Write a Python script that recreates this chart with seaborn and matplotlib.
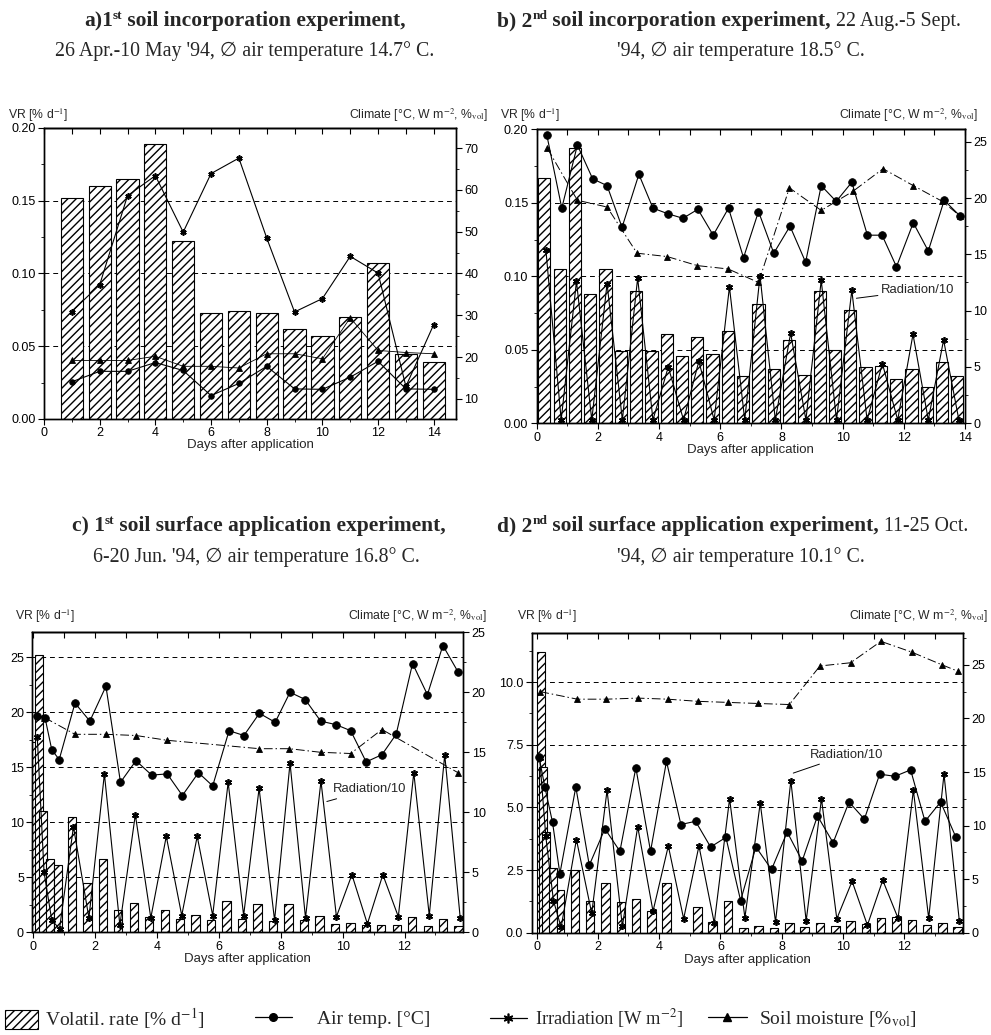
import matplotlib
matplotlib.use("Agg")
import matplotlib.pyplot as plt
import seaborn as sns
import numpy as np
import pandas as pd
from matplotlib.transforms import IdentityTransform
from matplotlib.patches import Patch
from matplotlib.lines import Line2D
from matplotlib.ticker import MultipleLocator, FormatStrFormatter

# ---------------- Panel a: 1st soil incorporation experiment ----------------
a_day = [1, 2, 3, 4, 5, 6, 7, 8, 9, 10, 11, 12, 13, 14]
a_vr = [0.152, 0.160, 0.165, 0.189, 0.122, 0.073, 0.074, 0.073, 0.062, 0.057, 0.070, 0.107, 0.045, 0.039]
a_temp = [14.1, 16.6, 16.6, 18.7, 16.8, 10.8, 13.7, 17.8, 12.4, 12.3, 15.2, 19.0, 12.4, 12.3]
a_irr = [30.9, 37.3, 58.6, 63.4, 49.9, 63.9, 67.6, 48.5, 30.8, 34.0, 44.1, 40.1, 13.0, 27.8]
a_soil = [19.2, 19.2, 19.2, 20.2, 17.8, 17.8, 17.4, 20.8, 20.8, 19.6, 29.4, 21.6, 21.1, 20.8]

# ---------------- Panel b: 2nd soil incorporation experiment ----------------
b_bar_day = [0.25, 0.75, 1.25, 1.75, 2.25, 2.75, 3.25, 3.75, 4.25, 4.75, 5.25, 5.75, 6.25, 6.75,
             7.25, 7.75, 8.25, 8.75, 9.25, 9.75, 10.25, 10.75, 11.25, 11.75, 12.25, 12.75, 13.25, 13.75]
b_vr = [0.167, 0.105, 0.187, 0.088, 0.105, 0.049, 0.090, 0.049, 0.061, 0.046, 0.059, 0.047, 0.063, 0.032,
        0.081, 0.037, 0.057, 0.033, 0.090, 0.050, 0.077, 0.038, 0.039, 0.030, 0.037, 0.025, 0.042, 0.032]
b_temp_day = [0.33, 0.82, 1.33, 1.83, 2.30, 2.79, 3.34, 3.80, 4.29, 4.78, 5.27, 5.77, 6.27, 6.76,
              7.25, 7.75, 8.28, 8.79, 9.30, 9.79, 10.30, 10.81, 11.29, 11.76, 12.31, 12.80, 13.32, 13.84]
b_temp = [25.6, 19.1, 24.7, 21.7, 21.1, 17.4, 22.1, 19.1, 18.6, 18.2, 19.0, 16.7, 19.1, 14.7,
          18.8, 15.1, 17.5, 14.3, 21.1, 19.7, 21.4, 16.7, 16.7, 13.9, 17.8, 15.3, 19.8, 18.4]
b_rad_day = [0.3, 0.8, 1.3, 1.8, 2.3, 2.8, 3.3, 3.8, 4.3, 4.8, 5.3, 5.8, 6.3, 6.8,
             7.3, 7.8, 8.3, 8.8, 9.3, 9.8, 10.3, 10.8, 11.3, 11.8, 12.3, 12.8, 13.3, 13.8]
b_rad = [15.4, 0.3, 12.6, 0.3, 12.4, 0.3, 12.9, 0.3, 5.0, 0.3, 5.5, 0.3, 12.1, 0.3,
         13.1, 0.3, 8.0, 0.3, 12.7, 0.3, 11.8, 0.3, 5.3, 0.3, 7.9, 0.3, 7.4, 0.3]
b_soil_day = [0.35, 1.33, 2.30, 3.28, 4.27, 5.25, 6.26, 7.25, 8.26, 9.30, 10.34, 11.32, 12.31, 13.26, 13.84]
b_soil = [24.4, 19.8, 19.2, 15.1, 14.8, 14.0, 13.7, 12.5, 20.9, 18.9, 20.6, 22.6, 21.1, 19.7, 18.4]

# ---------------- Panel c: 1st soil surface application experiment ----------------
c_early_day = [0.08, 0.19, 0.32, 0.55, 0.80]
c_early_vr = [17.3, 25.2, 11.0, 6.7, 6.1]
c_bar_day = [1.25, 1.75, 2.25, 2.75, 3.25, 3.75, 4.25, 4.75, 5.25, 5.75, 6.25, 6.75, 7.25,
             7.75, 8.25, 8.75, 9.25, 9.75, 10.25, 10.75, 11.25, 11.75, 12.25, 12.75, 13.25, 13.75]
c_vr = [10.5, 4.45, 6.7, 2.0, 2.7, 1.4, 2.0, 1.2, 1.6, 1.1, 2.8, 1.2, 2.6,
        1.0, 2.6, 1.1, 1.5, 0.75, 0.8, 0.7, 0.7, 0.65, 1.35, 0.6, 1.25, 0.6]
c_temp_day = [0.13, 0.38, 0.60, 0.84, 1.35, 1.83, 2.35, 2.82, 3.32, 3.83, 4.33, 4.82, 5.34, 5.80, 6.33,
              6.81, 7.31, 7.82, 8.30, 8.79, 9.29, 9.79, 10.26, 10.76, 11.27, 11.73, 12.26, 12.74, 13.24, 13.73]
c_temp = [18.0, 17.9, 15.2, 14.4, 19.1, 17.6, 20.5, 12.5, 14.3, 13.1, 13.2, 11.4, 13.3, 12.2, 16.8,
          16.4, 18.25, 17.5, 20.0, 19.4, 17.6, 17.3, 16.8, 14.2, 14.8, 16.5, 22.4, 19.8, 23.9, 21.7]
c_rad_day = [0.13, 0.35, 0.60, 0.85, 1.3, 1.8, 2.3, 2.8, 3.3, 3.8, 4.3, 4.8, 5.3, 5.8, 6.3,
             6.8, 7.3, 7.8, 8.3, 8.8, 9.3, 9.8, 10.3, 10.8, 11.3, 11.8, 12.3, 12.8, 13.3, 13.8]
c_rad = [16.3, 5.0, 1.0, 0.3, 8.8, 1.2, 13.2, 0.6, 9.8, 1.2, 8.0, 1.4, 8.0, 1.4, 12.5,
         1.4, 12.0, 1.0, 14.1, 1.2, 12.6, 1.3, 4.8, 0.7, 4.8, 1.3, 13.3, 1.4, 14.8, 1.2]
c_soil_day = [0.36, 1.35, 2.35, 3.32, 4.33, 7.31, 8.28, 9.29, 10.26, 11.27, 13.73]
c_soil = [17.9, 16.5, 16.5, 16.4, 16.0, 15.3, 15.3, 15.0, 14.9, 16.9, 13.3]

# ---------------- Panel d: 2nd soil surface application experiment ----------------
d_early_day = [0.13, 0.22, 0.31, 0.52, 0.78]
d_early_vr = [11.2, 6.6, 4.0, 2.6, 1.7]
d_bar_day = [1.25, 1.75, 2.25, 2.75, 3.25, 3.75, 4.25, 4.75, 5.25, 5.75, 6.25, 6.75, 7.25,
             7.75, 8.25, 8.75, 9.25, 9.75, 10.25, 10.75, 11.25, 11.75, 12.25, 12.75, 13.25, 13.75]
d_vr = [2.5, 1.28, 1.97, 1.24, 1.34, 0.88, 1.97, 0.0, 1.04, 0.44, 1.28, 0.2, 0.27,
        0.17, 0.4, 0.24, 0.37, 0.28, 0.48, 0.35, 0.6, 0.64, 0.5, 0.3, 0.37, 0.24]
d_temp_day = [0.08, 0.27, 0.52, 0.76, 1.28, 1.72, 2.23, 2.72, 3.24, 3.72, 4.24, 4.71, 5.19, 5.68, 6.18,
              6.66, 7.16, 7.67, 8.18, 8.67, 9.17, 9.68, 10.2, 10.7, 11.2, 11.7, 12.21, 12.68, 13.19, 13.69]
d_temp = [16.4, 13.6, 10.3, 5.5, 13.6, 6.3, 9.7, 7.6, 15.4, 7.6, 16.0, 10.1, 10.4, 8.0, 8.9,
          3.0, 8.0, 5.9, 9.4, 6.7, 10.9, 8.4, 12.2, 10.6, 14.8, 14.6, 15.2, 10.4, 12.2, 8.9]
d_rad_day = [0.10, 0.30, 0.55, 0.80, 1.3, 1.8, 2.3, 2.8, 3.3, 3.8, 4.3, 4.8, 5.3, 5.8, 6.3,
             6.8, 7.3, 7.8, 8.3, 8.8, 9.3, 9.8, 10.3, 10.8, 11.3, 11.8, 12.3, 12.8, 13.3, 13.8]
d_rad = [16.3, 9.0, 3.0, 0.5, 8.7, 1.8, 13.3, 0.6, 9.9, 2.0, 8.1, 1.3, 8.1, 0.9, 12.5,
         1.4, 12.1, 1.0, 14.2, 1.1, 12.5, 1.3, 4.8, 0.7, 4.9, 1.35, 13.3, 1.35, 14.8, 1.1]
d_soil_day = [0.12, 1.33, 2.28, 3.30, 4.28, 5.26, 6.24, 7.22, 8.25, 9.25, 10.25, 11.24, 12.24, 13.24, 13.76]
d_soil = [22.5, 21.8, 21.8, 21.9, 21.8, 21.6, 21.5, 21.4, 21.3, 24.9, 25.2, 27.2, 26.2, 25.0, 24.4]

# ---------------- style ----------------
sns.set_style("ticks")
SANS = ["Liberation Sans", "DejaVu Sans"]
SERIF = ["Liberation Serif", "DejaVu Serif", "DejaVu Sans"]
plt.rcParams["font.family"] = SANS
plt.rcParams["mathtext.fontset"] = "stix"
plt.rcParams["hatch.linewidth"] = 1.0
plt.rcParams["axes.linewidth"] = 1.0
plt.rcParams["xtick.major.size"] = 4
plt.rcParams["ytick.major.size"] = 4
plt.rcParams["xtick.minor.size"] = 2.5
plt.rcParams["ytick.minor.size"] = 2.5
plt.rcParams["xtick.color"] = "black"
plt.rcParams["ytick.color"] = "black"
plt.rcParams["axes.edgecolor"] = "black"

W, H = 991, 1035
fig = plt.figure(figsize=(W / 100, H / 100), dpi=100)
HATCH = "////"
TICKFS = 9
LABFS = 9.5


def rect(l, t, r, b):
    return [l / W, 1 - b / H, (r - l) / W, (b - t) / H]


def draw_bars(ax, xs, ys, width):
    sns.barplot(x=xs, y=ys, ax=ax, native_scale=True, orient="x", width=width,
                color="white", saturation=1, edgecolor="black", linewidth=0.8,
                hatch=HATCH, errorbar=None)


def draw_line(ax, xs, ys, marker, ms, ls="-", lw=0.8, mew=0.6):
    sns.lineplot(x=xs, y=ys, ax=ax, color="black", linewidth=lw, linestyle=ls,
                 marker=marker, markersize=ms, markerfacecolor="black",
                 markeredgecolor="black", markeredgewidth=mew, errorbar=None, sort=False)


SOIL_LS = (0, (9, 3, 1.5, 3))
STAR = (6, 2, 0)


def finish_panel(ax, ax2, xlim, ylim_l, ylim_r, lmaj, lmin, rmaj, rmin, lfmt, xlabel_y):
    ax.set_xlim(*xlim)
    ax.set_ylim(*ylim_l)
    ax2.set_ylim(*ylim_r)
    ax.xaxis.set_major_locator(MultipleLocator(2))
    ax.xaxis.set_minor_locator(MultipleLocator(1))
    ax.xaxis.set_major_formatter(FormatStrFormatter("%d"))
    ax.yaxis.set_major_locator(MultipleLocator(lmaj))
    ax.yaxis.set_minor_locator(MultipleLocator(lmin))
    ax.yaxis.set_major_formatter(FormatStrFormatter(lfmt))
    ax2.yaxis.set_major_locator(MultipleLocator(rmaj))
    ax2.yaxis.set_minor_locator(MultipleLocator(rmin))
    ax2.yaxis.set_major_formatter(FormatStrFormatter("%d"))
    ax.tick_params(axis="both", which="both", direction="out", labelsize=TICKFS, pad=2,
                   top=False, right=False)
    ax2.tick_params(axis="y", which="both", direction="out", labelsize=TICKFS, pad=2)
    sec = ax.secondary_xaxis("top")
    sec.xaxis.set_major_locator(MultipleLocator(1))
    sec.tick_params(axis="x", direction="in", length=4, labeltop=False, labelbottom=False)
    ax.yaxis.grid(True, which="major", linestyle=(0, (5, 4)), linewidth=0.7, color="black")
    ax.xaxis.grid(False)
    ax.set_axisbelow(True)
    ax2.grid(False)
    ax.set_xlabel("Days after application", fontsize=LABFS)
    ax.xaxis.set_label_coords(0.5, xlabel_y)
    ax.set_ylabel("")
    ax2.set_ylabel("")
    for s in ax.spines.values():
        s.set_linewidth(1.0)


def top_labels(xl, xr, y):
    fig.text(xl / W, 1 - y / H, "VR [% d$^{-1}$]", fontsize=8.8, ha="left", va="baseline")
    fig.text(xr / W, 1 - y / H, "Climate [°C, W m$^{-2}$, %$_{\\mathrm{vol}}$]",
             fontsize=8.8, ha="right", va="baseline")


def rad_label(ax2, xy, xytext):
    ax2.annotate("Radiation/10", xy=xy, xytext=xytext, fontsize=9.4, ha="left", va="center",
                 arrowprops=dict(arrowstyle="-", lw=0.7, color="black", shrinkA=0, shrinkB=0))


# ---------------- Panel a ----------------
axa = fig.add_axes(rect(44, 128, 456, 419))
axa2 = axa.twinx()
draw_bars(axa, a_day, a_vr, 0.8)
draw_line(axa2, a_day, a_irr, STAR, 4.5, mew=1.2)
draw_line(axa2, a_day, a_soil, "^", 4, ls="-", lw=0.6)
draw_line(axa2, a_day, a_temp, "o", 4)
finish_panel(axa, axa2, (0, 14.8), (0, 0.20), (5.2, 74.8), 0.05, 0.025, 10, 5, "%.2f", -0.068)
top_labels(8, 488, 119)

# ---------------- Panel b ----------------
axb = fig.add_axes(rect(536.7, 129.3, 965, 423.3))
axb2 = axb.twinx()
draw_bars(axb, b_bar_day, b_vr, 0.8)
draw_line(axb2, b_rad_day, b_rad, STAR, 5, mew=1.2)
draw_line(axb2, b_soil_day, b_soil, "^", 5, ls=SOIL_LS, lw=0.7)
draw_line(axb2, b_temp_day, b_temp, "o", 5.5)
finish_panel(axb, axb2, (0, 14.0), (0, 0.20), (0, 26.1), 0.05, 0.025, 5, 2.5, "%.2f", -0.072)
rad_label(axb2, (10.45, 11.1), (11.26, 11.8))
top_labels(500, 978, 119)

# ---------------- Panel c ----------------
axc = fig.add_axes(rect(32.3, 631.7, 463.3, 932.3))
axc2 = axc.twinx()
for xv, yv in zip(c_early_day, c_early_vr):
    draw_bars(axc, [xv], [yv], 0.26)
draw_bars(axc, c_bar_day, c_vr, 0.54)
draw_line(axc2, c_rad_day, c_rad, STAR, 5, mew=1.2)
draw_line(axc2, c_soil_day, c_soil, "^", 5, ls=SOIL_LS, lw=0.7)
draw_line(axc2, c_temp_day, c_temp, "o", 5.5)
finish_panel(axc, axc2, (-0.03, 13.9), (0, 27.3), (0, 25.05), 5, 2.5, 5, 2.5, "%d", -0.07)
rad_label(axc2, (9.49, 10.9), (9.69, 11.9))
top_labels(15, 487, 620)

# ---------------- Panel d ----------------
axd = fig.add_axes(rect(531.7, 633.3, 963.3, 932.7))
axd2 = axd.twinx()
for xv, yv in zip(d_early_day, d_early_vr):
    draw_bars(axd, [xv], [yv], 0.26)
draw_bars(axd, d_bar_day, d_vr, 0.56)
draw_line(axd2, d_rad_day, d_rad, STAR, 5, mew=1.2)
draw_line(axd2, d_soil_day, d_soil, "^", 5, ls=SOIL_LS, lw=0.7)
draw_line(axd2, d_temp_day, d_temp, "o", 5.5)
finish_panel(axd, axd2, (-0.16, 13.93), (0, 11.95), (0, 27.95), 2.5, 1.25, 5, 2.5, "%.1f", -0.07)
rad_label(axd2, (8.38, 14.9), (8.92, 16.6))
top_labels(517, 988, 620)

# ---------------- titles (mixed bold / normal runs) ----------------
renderer = fig.canvas.get_renderer()
BFS, NFS = 15.5, 14.3


def rich_line(x, y, runs, anchor="center"):
    objs = []
    for s, weight, sup in runs:
        fs = BFS if weight == "bold" else NFS
        t = fig.text(0, 0, s, fontsize=(fs * 0.62 if sup else fs), fontweight=weight,
                     family=SERIF, transform=IdentityTransform(), ha="left", va="baseline")
        objs.append((t, sup))
    widths = [t.get_window_extent(renderer).width for t, _ in objs]
    x0 = x - sum(widths) / 2 if anchor == "center" else x
    for (t, sup), w in zip(objs, widths):
        t.set_position((x0, H - y + (7 if sup else 0)))
        x0 += w


B, N = "bold", "normal"
rich_line(245, 26, [("a)1", B, False), ("st", B, True), (" soil incorporation experiment,", B, False)])
rich_line(245, 56, [("26 Apr.-10 May '94, \u2205 air temperature 14.7\u00b0 C.", N, False)])
rich_line(497, 26, [("b) 2", B, False), ("nd", B, True), (" soil incorporation experiment,", B, False),
                    (" 22 Aug.-5 Sept.", N, False)], anchor="left")
rich_line(741, 56, [("'94, \u2205 air temperature 18.5\u00b0 C.", N, False)])
rich_line(259, 531, [("c) 1", B, False), ("st", B, True), (" soil surface application experiment,", B, False)])
rich_line(256, 562, [("6-20 Jun. '94, \u2205 air temperature 16.8\u00b0 C.", N, False)])
rich_line(497, 531, [("d) 2", B, False), ("nd", B, True), (" soil surface application experiment,", B, False),
                     (" 11-25 Oct.", N, False)], anchor="left")
rich_line(741, 562, [("'94, \u2205 air temperature 10.1\u00b0 C.", N, False)])

# ---------------- legend (four separate entries) ----------------
entries = [
    (Patch(facecolor="white", edgecolor="black", hatch=HATCH, linewidth=0.8),
     "Volatil. rate [% d$^{-1}$]", 5, 1.7, 0.36, 1.13, 14),
    (Line2D([], [], color="black", lw=0.9, marker="o", ms=5.5),
     "Air temp. [°C]", 255, 1.9, 1.3, 0.7, 14),
    (Line2D([], [], color="black", lw=0.9, marker=STAR, ms=7, mew=1.2),
     "Irradiation [W m$^{-2}$]", 490, 2.0, 0.45, 0.7, 13.3),
    (Line2D([], [], color="black", lw=0.9, marker="^", ms=5.5),
     "Soil moisture [%$_{\\mathrm{vol}}$]", 708, 2.0, 0.6, 0.7, 14),
]
for h, lab, xp, hl, tp, hh, fsz in entries:
    fig.legend([h], [lab], loc="center left", bbox_to_anchor=(xp / W, 1 - 1019 / H),
               frameon=False, borderpad=0, borderaxespad=0, handlelength=hl,
               handletextpad=tp, handleheight=hh, prop={"family": SERIF, "size": fsz})

fig.savefig("out.png", dpi=100)
